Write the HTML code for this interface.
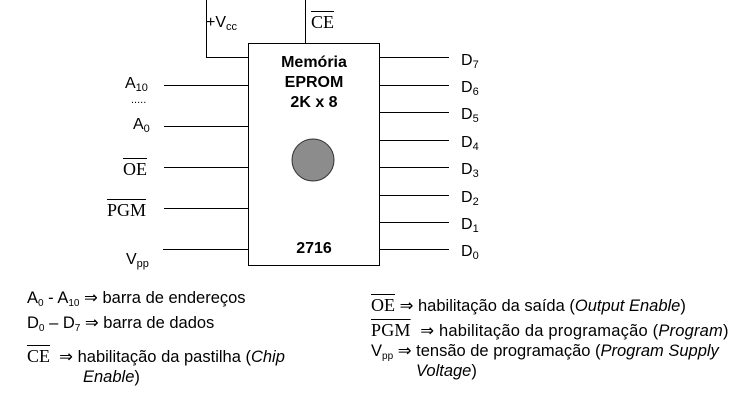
<!DOCTYPE html>
<html><head><meta charset="utf-8"><style>
body{margin:0;width:752px;height:403px;background:#fff;position:relative;overflow:hidden;font-family:"Liberation Sans",sans-serif;color:#000}
.t{position:absolute;white-space:nowrap;font-size:16px;line-height:1}
.s{font-family:"Liberation Serif",serif;font-size:18px}
.o{text-decoration:overline}
sub{font-size:11px;vertical-align:-3px}
.l{font-size:16.5px}
.l sub{font-size:10px}
</style></head><body>
<svg width="752" height="403" style="position:absolute;left:0;top:0" stroke="#000" stroke-width="1" fill="none">
<rect x="248.5" y="43.5" width="131" height="222"/>
<polyline points="206.5,0 206.5,57.5 248,57.5"/>
<line x1="305.5" y1="0" x2="305.5" y2="43"/>
<g>
<line x1="164" y1="85.5" x2="248" y2="85.5"/>
<line x1="164" y1="126.5" x2="248" y2="126.5"/>
<line x1="164" y1="167.5" x2="248" y2="167.5"/>
<line x1="164" y1="208.5" x2="248" y2="208.5"/>
<line x1="163" y1="249.5" x2="248" y2="249.5"/>
</g>
<g>
<line x1="380" y1="57.5" x2="449" y2="57.5"/>
<line x1="380" y1="85.5" x2="449" y2="85.5"/>
<line x1="380" y1="112.5" x2="449" y2="112.5"/>
<line x1="380" y1="140.5" x2="449" y2="140.5"/>
<line x1="380" y1="167.5" x2="449" y2="167.5"/>
<line x1="380" y1="195.5" x2="449" y2="195.5"/>
<line x1="380" y1="222.5" x2="449" y2="222.5"/>
<line x1="380" y1="249.5" x2="449" y2="249.5"/>
</g>
<circle cx="313" cy="160" r="21" fill="#8c8c8c" stroke="#333"/>
</svg>
<div class="t" style="left:206px;top:15px">+V<sub>cc</sub></div>
<div class="t s o" style="left:311px;top:13px">CE</div>
<div class="t" style="left:248px;top:53px;width:132px;text-align:center;font-weight:bold;font-size:16px;line-height:20px">Memória<br>EPROM<br>2K x 8</div>
<div class="t" style="left:248px;top:241px;width:132px;text-align:center;font-weight:bold;font-size:16px">2716</div>
<div class="t" style="left:125px;top:76px">A<sub>10</sub></div>
<div class="t" style="left:131px;top:95px;font-size:11px">.....</div>
<div class="t" style="left:133px;top:117px">A<sub>0</sub></div>
<div class="t s o" style="left:123px;top:160px">OE</div>
<div class="t s o" style="left:107px;top:201px">PGM</div>
<div class="t" style="left:126px;top:252px">V<sub>pp</sub></div>
<div class="t" style="left:461px;top:53px">D<sub>7</sub></div>
<div class="t" style="left:461px;top:80px">D<sub>6</sub></div>
<div class="t" style="left:461px;top:107px">D<sub>5</sub></div>
<div class="t" style="left:461px;top:135px">D<sub>4</sub></div>
<div class="t" style="left:461px;top:162px">D<sub>3</sub></div>
<div class="t" style="left:461px;top:190px">D<sub>2</sub></div>
<div class="t" style="left:461px;top:217px">D<sub>1</sub></div>
<div class="t" style="left:461px;top:244px">D<sub>0</sub></div>

<div class="t l" style="left:27px;top:290px">A<sub>0</sub> - A<sub>10</sub> ⇒ barra de endereços</div>
<div class="t l" style="left:27px;top:315px">D<sub>0</sub> – D<sub>7</sub> ⇒ barra de dados</div>
<div class="t l" style="left:27px;top:347px"><span class="s o">CE</span> &nbsp;⇒ habilitação da pastilha (<i>Chip</i></div>
<div class="t l" style="left:83px;top:369px"><i>Enable</i>)</div>
<div class="t l" style="left:371px;top:296px"><span class="s o">OE</span> ⇒ habilitação da saída (<i>Output Enable</i>)</div>
<div class="t l" style="left:371px;top:321px;letter-spacing:0.2px"><span class="s o">PGM</span> &nbsp;⇒ habilitação da programação (<i>Program</i>)</div>
<div class="t l" style="left:371px;top:343px">V<sub>pp</sub> ⇒ tensão de programação (<i>Program Supply</i></div>
<div class="t l" style="left:416px;top:363px"><i>Voltage</i>)</div>
</body></html>
